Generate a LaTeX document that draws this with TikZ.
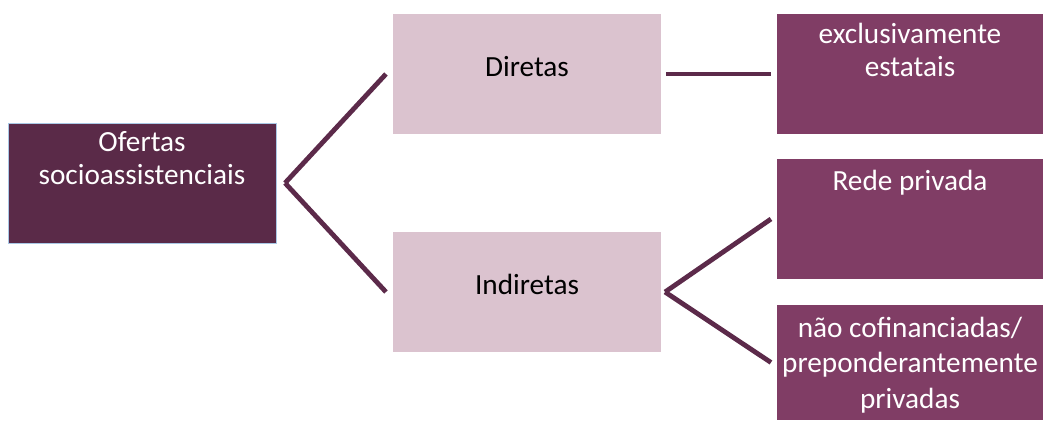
\documentclass[tikz,border=0pt]{standalone}
\usepackage{fontspec}
\setmainfont{Carlito}
\definecolor{darkplum}{HTML}{5A2A48}
\definecolor{lightplum}{HTML}{DBC3CF}
\definecolor{midplum}{HTML}{803D65}
\definecolor{linkplum}{HTML}{5C2A4A}
\definecolor{edgeblue}{HTML}{A9C8E6}
% text set at the top of a fixed box
\newcommand{\boxtext}[4]{\parbox[c][#1][t]{#2}{\centering\rule{0pt}{#3}#4}}
\begin{document}
\begin{tikzpicture}[x=0.025cm, y=-0.025cm,
    every node/.style={inner sep=0pt, outer sep=0pt, font=\fontsize{20.8pt}{23.2pt}\selectfont},
    rootbox/.style={fill=darkplum, draw=edgeblue, line width=0.4pt, text=white},
    midbox/.style={fill=lightplum, text=black},
    leafbox/.style={fill=midplum, text=white},
    link/.style={draw=linkplum, line width=0.12cm}]
  \useasboundingbox (0, 0) rectangle (1043, 421);
  \node[rootbox] (ofertas) at (142, 183) {\boxtext{3cm}{6.7cm}{0.72cm}{Ofertas\\socioassistenciais}};
  \node[midbox] (diretas) at (527, 74) {\boxtext{3cm}{6.7cm}{1.55cm}{Diretas}};
  \node[midbox] (indiretas) at (527, 292) {\boxtext{3cm}{6.7cm}{1.55cm}{Indiretas}};
  \node[leafbox] (estatais) at (910, 74) {\boxtext{3cm}{6.65cm}{0.75cm}{exclusivamente\\estatais}};
  \node[leafbox] (rede) at (910, 219) {\boxtext{3cm}{6.65cm}{0.8cm}{Rede privada}};
  \node[leafbox, font=\fontsize{20.8pt}{25.6pt}\selectfont] (naocof) at (910, 362.5)
    {\boxtext{2.875cm}{6.65cm}{0.8cm}{não cofinanciadas/\\preponderantemente\\privadas}};
  \coordinate (fork1) at ([xshift=0.225cm]ofertas.east);
  \coordinate (fork2) at ([xshift=0.1cm]indiretas.east);
  \path[link] (fork1) -- ([xshift=-0.175cm]diretas.west);
  \path[link] (fork1) -- ([xshift=-0.175cm]indiretas.west);
  \path[link] ([xshift=0.125cm]diretas.east) -- ([xshift=-0.15cm]estatais.west);
  \path[link] (fork2) -- ([xshift=-0.15cm]rede.west);
  \path[link] (fork2) -- ([xshift=-0.15cm]naocof.west);
\end{tikzpicture}
\end{document}
